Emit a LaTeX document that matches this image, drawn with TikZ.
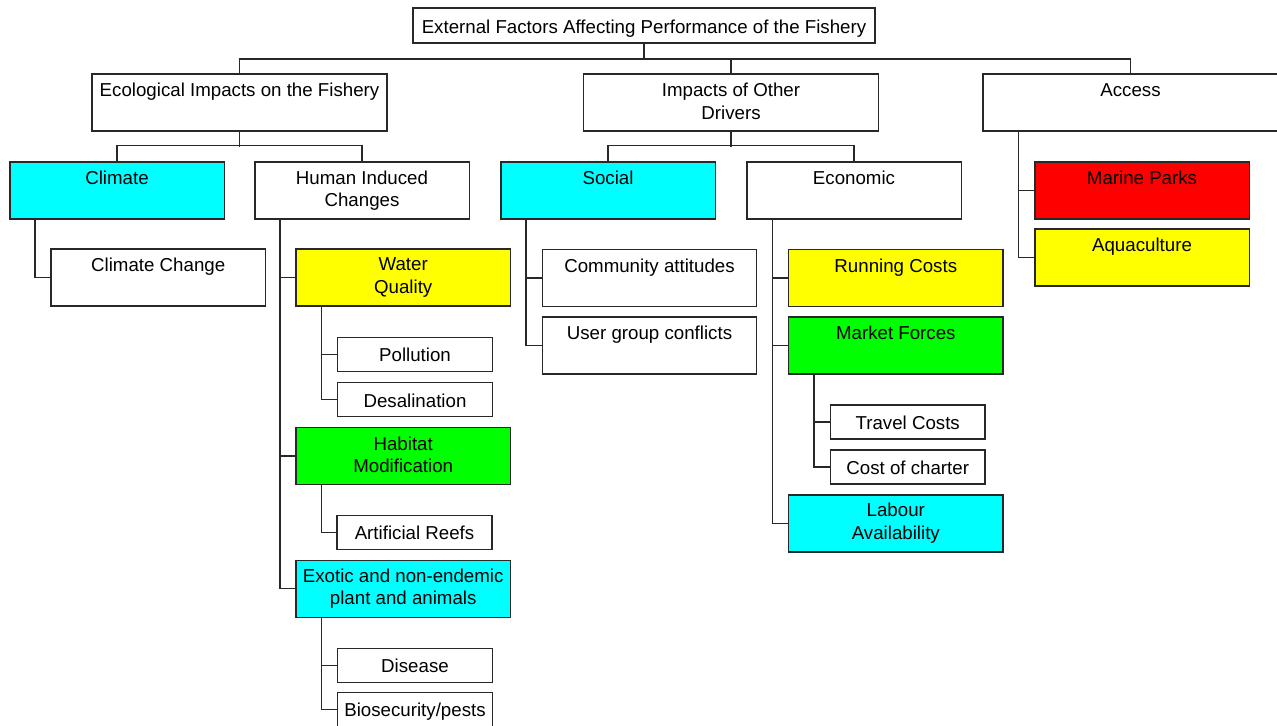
\documentclass[tikz,border=0pt]{standalone}
\usepackage{fontspec}
\setmainfont{Liberation Sans}
\usepackage{tikz}
\usetikzlibrary{positioning}
\usetikzlibrary{calc}
\definecolor{boxcyan}{RGB}{0,255,255}
\definecolor{boxyellow}{RGB}{255,255,0}
\definecolor{boxgreen}{RGB}{0,255,0}
\definecolor{boxred}{RGB}{255,0,0}
\definecolor{edge}{RGB}{40,40,40}
\tikzset{every picture/.style={line width=0.7pt}}

\begin{document}
\begin{tikzpicture}[x=0.5pt,y=-0.5pt,
  box/.style={draw=edge,align=center,inner sep=0pt,font=\fontsize{9.35}{11.25}\selectfont,
    minimum width=107.2pt,minimum height=28.5pt,
    execute at begin node={\rule{0pt}{9.8pt}},execute at end node={\rule[-1.35pt]{0pt}{1.35pt}}},
  wide/.style={box,minimum width=147.5pt},
  small/.style={box,minimum width=77.4pt,minimum height=17pt,
    execute at begin node={\rule{0pt}{8.8pt}},execute at end node={\rule[-2.35pt]{0pt}{2.35pt}}},
  link/.style={draw=edge}]
\useasboundingbox (0,0) rectangle (1277,726);
% top
\node[small,minimum width=231pt,minimum height=17.5pt] (top) at (644,25.7) {External Factors Affecting Performance of the Fishery};
\node[wide] (eco) at (239.5,102.5) {Ecological Impacts on the Fishery\\};
\node[wide] (oth) at (731,102.5) {Impacts of Other\\Drivers};
\node[wide] (acc) at (1130.5,102.5) {Access\\};
\coordinate (bus) at (0,59);
\draw[link] (top.south) -- (top.south |- bus);
\draw[link] (eco.north) |- (bus -| acc.north) -- (acc.north);
\draw[link] (oth.north) -- (oth.north |- bus);
% second row
\node[box,fill=boxcyan] (clim) at (117,190.5) {Climate\\};
\node[box] (hum) at (362,190.5) {Human Induced\\Changes};
\node[box,fill=boxcyan] (soc) at (608,190.5) {Social\\};
\node[box] (econ) at (854,190.5) {Economic\\};
\draw[link] (eco.south) -- ++(0,15.5);
\draw[link] (clim.north) -- ++(0,-15.5) -| (hum.north);
\draw[link] (oth.south) -- ++(0,15.5);
\draw[link] (soc.north) -- ++(0,-15.5) -| (econ.north);
% climate
\node[box] (cc) at (158.2,277.7) {Climate Change\\};
\draw[link] ($(clim.south west)+(26,0)$) |- (cc.west);
% human induced
\node[box,fill=boxyellow] (wq) at (403.2,277.7) {Water\\Quality};
\node[small] (pol) at (415,354.5) {Pollution};
\node[small] (des) at (415,399.7) {Desalination};
\node[box,fill=boxgreen] (hab) at (403.2,456) {Habitat\\Modification};
\node[small] (art) at (414.5,532.3) {Artificial Reefs};
\node[box,fill=boxcyan] (exo) at (403.2,588.7) {Exotic and non-endemic\\plant and animals};
\node[small] (dis) at (415,665.3) {Disease};
\node[small] (bio) at (415,709.3) {Biosecurity/pests};
\foreach \c in {wq,hab,exo} \draw[link] ($(hum.south west)+(26,0)$) |- (\c.west);
\foreach \c in {pol,des} \draw[link] ($(wq.south west)+(26,0)$) |- (\c.west);
\draw[link] ($(hab.south west)+(26,0)$) |- (art.west);
\foreach \c in {dis,bio} \draw[link] ($(exo.south west)+(26,0)$) |- (\c.west);
% social
\node[box] (com) at (649.5,278) {Community attitudes\\};
\node[box] (usr) at (649.5,345.5) {User group conflicts\\};
\foreach \c in {com,usr} \draw[link] ($(soc.south west)+(26,0)$) |- (\c.west);
% economic
\node[box,fill=boxyellow] (run) at (895.8,278) {Running Costs\\};
\node[box,fill=boxgreen] (mkt) at (895.8,345.5) {Market Forces\\};
\node[small] (trv) at (907.7,421.8) {Travel Costs};
\node[small] (cha) at (907.7,466.8) {Cost of charter};
\node[box,fill=boxcyan] (lab) at (895.8,523.3) {Labour\\Availability};
\foreach \c in {run,mkt,lab} \draw[link] ($(econ.south west)+(26.6,0)$) |- (\c.west);
\foreach \c in {trv,cha} \draw[link] ($(mkt.south west)+(26,0)$) |- (\c.west);
% access
\node[box,fill=boxred] (mpk) at (1142,190.5) {Marine Parks\\};
\node[box,fill=boxyellow] (aqu) at (1142,257.5) {Aquaculture\\};
\foreach \c in {mpk,aqu} \draw[link] ($(acc.south west)+(36,0)$) |- (\c.west);
\end{tikzpicture}
\end{document}
